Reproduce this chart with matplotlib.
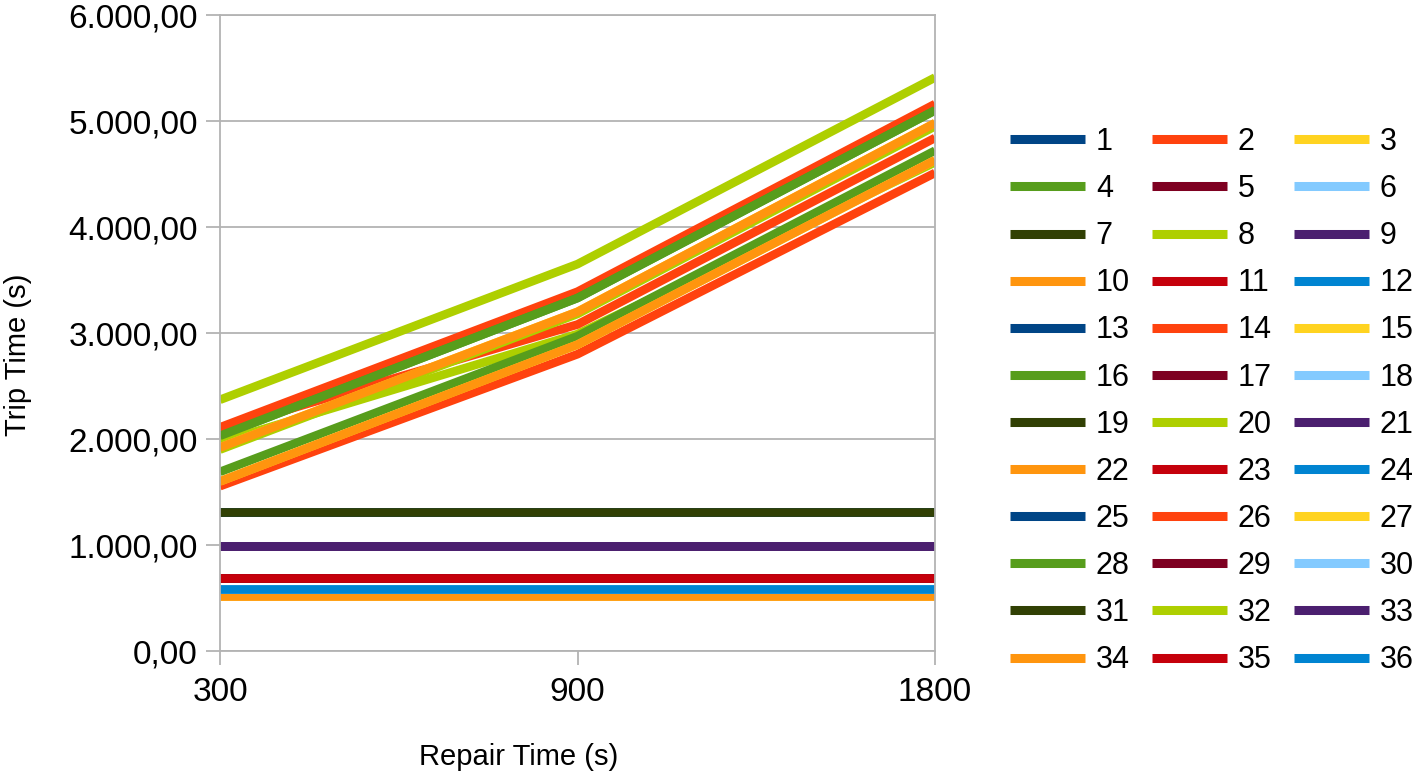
import matplotlib
matplotlib.use("Agg")
import matplotlib.pyplot as plt
from matplotlib.ticker import FuncFormatter

plt.rcParams['font.family'] = ['Liberation Sans', 'DejaVu Sans']

# ---- data ----
repair_time = ["300", "900", "1800"]
series_labels = [str(i) for i in range(1, 37)]

# distinct trip-time profiles (s)
lime_top = [2370, 3650, 5410]
red_a = [2110, 3390, 5160]
green_a = [2030, 3330, 5100]
orange_a = [1920, 3200, 4980]
lime_c = [1900, 3180, 4950]
red_b = [2090, 3080, 4840]
lime_b = [1970, 2990, 4610]
green_b = [1690, 2970, 4720]
orange_b = [1600, 2890, 4630]
red_c = [1555, 2800, 4510]
flat_1310 = [1310, 1310, 1310]
flat_995 = [995, 995, 995]
flat_690 = [690, 690, 690]
flat_586 = [586, 586, 586]
flat_523 = [523, 523, 523]

series_values = [
    flat_1310, red_a, flat_523, green_a, flat_690, flat_586,
    flat_1310, lime_b, flat_995, flat_523, flat_690, flat_586,
    flat_1310, red_b, orange_a, green_b, flat_690, flat_586,
    flat_1310, lime_c, flat_995, orange_a, flat_690, flat_586,
    flat_1310, red_c, orange_b, green_a, flat_690, flat_586,
    flat_1310, lime_top, flat_995, orange_b, flat_690, flat_586,
]

palette = ["#004586", "#ff420e", "#ffd320", "#579d1c", "#7e0021", "#83caff",
           "#314004", "#aecf00", "#4b1f6f", "#ff950e", "#c5000b", "#0084d1"]

y_ticks = [0, 1000, 2000, 3000, 4000, 5000, 6000]

# ---- figure ----
W, H = 1415, 775
fig = plt.figure(figsize=(W / 100, H / 100), dpi=100)
ax = fig.add_axes([220 / W, 1 - 651 / H, (935 - 220) / W, (651 - 15) / H])

x = list(range(len(repair_time)))
for i, (lab, vals) in enumerate(zip(series_labels, series_values)):
    ax.plot(x, vals, color=palette[i % 12], lw=6.2, label=lab,
            solid_capstyle='butt', solid_joinstyle='round')

grid_c = "#b3b3b3"
ax.set_xlim(0, 2)
ax.set_ylim(0, 6000)
ax.set_xticks(x)
ax.set_xticklabels(repair_time)
ax.set_yticks(y_ticks)


def fmt(v, pos):
    s = f"{v:,.2f}"
    return s.replace(",", "X").replace(".", ",").replace("X", ".")


ax.yaxis.set_major_formatter(FuncFormatter(fmt))
ax.grid(axis='y', color=grid_c, lw=1.3)
ax.set_axisbelow(True)
for sp in ax.spines.values():
    sp.set_color(grid_c)
    sp.set_linewidth(1.3)
ax.tick_params(axis='both', colors=grid_c, length=10, width=1.3,
               labelcolor='black', labelsize=24)
ax.tick_params(axis='x', pad=9)
ax.tick_params(axis='y', pad=6)

fig.text(519 / W, 1 - 757 / H, "Repair Time (s)", ha='center', va='center',
         fontsize=21)
fig.text(18 / W, 1 - 355 / H, "Trip Time (s)", ha='center', va='center',
         fontsize=21, rotation=90)

handles, labels = ax.get_legend_handles_labels()
# reorder so that ncol=3 fills row-wise like the reference
order = []
nrow = 12
for c in range(3):
    for r in range(nrow):
        order.append(r * 3 + c)
leg = fig.legend([handles[k] for k in order], [labels[k] for k in order],
                 ncol=3, loc='upper left', bbox_to_anchor=(1010 / W, 1 - 127 / H),
                 frameon=False, fontsize=22, handlelength=2.45,
                 handletextpad=0.36, columnspacing=0.72, labelspacing=0.56,
                 borderaxespad=0, borderpad=0)
for lh in leg.get_lines():
    lh.set_linewidth(6.5)

fig.savefig("out.png", dpi=100)
